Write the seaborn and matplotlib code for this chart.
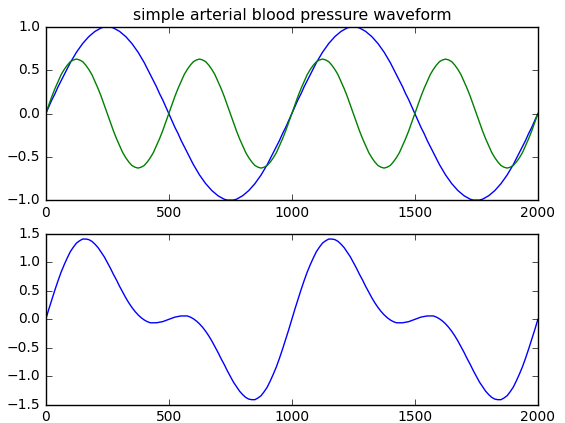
import numpy as np
import pandas as pd
import matplotlib
matplotlib.use('Agg')
import matplotlib.pyplot as plt
import seaborn as sns

# sample positions along the x axis (every 12.5 units, 0..2000)
x = np.linspace(0, 2000, 161)

# top panel: slow wave (blue)
slow_wave = [
    0.0, 0.08, 0.16, 0.23, 0.31, 0.38, 0.45, 0.52, 0.59, 0.65,
    0.71, 0.76, 0.81, 0.85, 0.89, 0.92, 0.95, 0.97, 0.99, 1.0,
    1.0, 1.0, 0.99, 0.97, 0.95, 0.92, 0.89, 0.85, 0.81, 0.76,
    0.71, 0.65, 0.59, 0.52, 0.45, 0.38, 0.31, 0.23, 0.16, 0.08,
    0.0, -0.08, -0.16, -0.23, -0.31, -0.38, -0.45, -0.52, -0.59, -0.65,
    -0.71, -0.76, -0.81, -0.85, -0.89, -0.92, -0.95, -0.97, -0.99, -1.0,
    -1.0, -1.0, -0.99, -0.97, -0.95, -0.92, -0.89, -0.85, -0.81, -0.76,
    -0.71, -0.65, -0.59, -0.52, -0.45, -0.38, -0.31, -0.23, -0.16, -0.08,
    0.0, 0.08, 0.16, 0.23, 0.31, 0.38, 0.45, 0.52, 0.59, 0.65,
    0.71, 0.76, 0.81, 0.85, 0.89, 0.92, 0.95, 0.97, 0.99, 1.0,
    1.0, 1.0, 0.99, 0.97, 0.95, 0.92, 0.89, 0.85, 0.81, 0.76,
    0.71, 0.65, 0.59, 0.52, 0.45, 0.38, 0.31, 0.23, 0.16, 0.08,
    0.0, -0.08, -0.16, -0.23, -0.31, -0.38, -0.45, -0.52, -0.59, -0.65,
    -0.71, -0.76, -0.81, -0.85, -0.89, -0.92, -0.95, -0.97, -0.99, -1.0,
    -1.0, -1.0, -0.99, -0.97, -0.95, -0.92, -0.89, -0.85, -0.81, -0.76,
    -0.71, -0.65, -0.59, -0.52, -0.45, -0.38, -0.31, -0.23, -0.16, -0.08,
    0.0]

# top panel: fast wave (green)
fast_wave = [
    0.0, 0.10, 0.20, 0.29, 0.37, 0.45, 0.51, 0.56, 0.60, 0.62,
    0.63, 0.62, 0.60, 0.56, 0.51, 0.45, 0.37, 0.29, 0.20, 0.10,
    0.0, -0.10, -0.20, -0.29, -0.37, -0.45, -0.51, -0.56, -0.60, -0.62,
    -0.63, -0.62, -0.60, -0.56, -0.51, -0.45, -0.37, -0.29, -0.20, -0.10,
    0.0, 0.10, 0.20, 0.29, 0.37, 0.45, 0.51, 0.56, 0.60, 0.62,
    0.63, 0.62, 0.60, 0.56, 0.51, 0.45, 0.37, 0.29, 0.20, 0.10,
    0.0, -0.10, -0.20, -0.29, -0.37, -0.45, -0.51, -0.56, -0.60, -0.62,
    -0.63, -0.62, -0.60, -0.56, -0.51, -0.45, -0.37, -0.29, -0.20, -0.10,
    0.0, 0.10, 0.20, 0.29, 0.37, 0.45, 0.51, 0.56, 0.60, 0.62,
    0.63, 0.62, 0.60, 0.56, 0.51, 0.45, 0.37, 0.29, 0.20, 0.10,
    0.0, -0.10, -0.20, -0.29, -0.37, -0.45, -0.51, -0.56, -0.60, -0.62,
    -0.63, -0.62, -0.60, -0.56, -0.51, -0.45, -0.37, -0.29, -0.20, -0.10,
    0.0, 0.10, 0.20, 0.29, 0.37, 0.45, 0.51, 0.56, 0.60, 0.62,
    0.63, 0.62, 0.60, 0.56, 0.51, 0.45, 0.37, 0.29, 0.20, 0.10,
    0.0, -0.10, -0.20, -0.29, -0.37, -0.45, -0.51, -0.56, -0.60, -0.62,
    -0.63, -0.62, -0.60, -0.56, -0.51, -0.45, -0.37, -0.29, -0.20, -0.10,
    0.0]

# bottom panel: combined waveform (blue)
combined = [
    0.0, 0.18, 0.35, 0.52, 0.68, 0.83, 0.96, 1.08, 1.19, 1.27,
    1.34, 1.38, 1.41, 1.41, 1.40, 1.37, 1.32, 1.26, 1.18, 1.10,
    1.0, 0.90, 0.79, 0.69, 0.58, 0.48, 0.38, 0.29, 0.21, 0.14,
    0.08, 0.03, -0.01, -0.04, -0.06, -0.06, -0.06, -0.05, -0.04, -0.02,
    0.0, 0.02, 0.04, 0.05, 0.06, 0.06, 0.06, 0.04, 0.01, -0.03,
    -0.08, -0.14, -0.21, -0.29, -0.38, -0.48, -0.58, -0.69, -0.79, -0.90,
    -1.0, -1.10, -1.18, -1.26, -1.32, -1.37, -1.40, -1.41, -1.41, -1.38,
    -1.34, -1.27, -1.19, -1.08, -0.96, -0.83, -0.68, -0.52, -0.35, -0.18,
    0.0, 0.18, 0.35, 0.52, 0.68, 0.83, 0.96, 1.08, 1.19, 1.27,
    1.34, 1.38, 1.41, 1.41, 1.40, 1.37, 1.32, 1.26, 1.18, 1.10,
    1.0, 0.90, 0.79, 0.69, 0.58, 0.48, 0.38, 0.29, 0.21, 0.14,
    0.08, 0.03, -0.01, -0.04, -0.06, -0.06, -0.06, -0.05, -0.04, -0.02,
    0.0, 0.02, 0.04, 0.05, 0.06, 0.06, 0.06, 0.04, 0.01, -0.03,
    -0.08, -0.14, -0.21, -0.29, -0.38, -0.48, -0.58, -0.69, -0.79, -0.90,
    -1.0, -1.10, -1.18, -1.26, -1.32, -1.37, -1.40, -1.41, -1.41, -1.38,
    -1.34, -1.27, -1.19, -1.08, -0.96, -0.83, -0.68, -0.52, -0.35, -0.18,
    0.0]

df = pd.DataFrame({'x': x, 'slow': slow_wave, 'fast': fast_wave, 'combined': combined})

plt.style.use('classic')
plt.rcParams['figure.facecolor'] = 'white'
plt.rcParams['font.family'] = ['DejaVu Sans']

fig = plt.figure(figsize=(5.65, 4.23), dpi=100)
ax1 = fig.add_axes([0.081, 0.527, 0.871, 0.409])
ax2 = fig.add_axes([0.081, 0.043, 0.871, 0.404])

sns.lineplot(data=df, x='x', y='slow', color='b', lw=1, ax=ax1)
sns.lineplot(data=df, x='x', y='fast', color='g', lw=1, ax=ax1)
sns.lineplot(data=df, x='x', y='combined', color='b', lw=1, ax=ax2)

ax1.set_xlim(0, 2000)
ax1.set_ylim(-1.0, 1.0)
ax1.set_yticks([-1.0, -0.5, 0.0, 0.5, 1.0])
ax1.set_title('simple arterial blood pressure waveform', fontsize=11.3)

ax2.set_xlim(0, 2000)
ax2.set_ylim(-1.5, 1.5)
ax2.set_yticks([-1.5, -1.0, -0.5, 0.0, 0.5, 1.0, 1.5])

for ax in (ax1, ax2):
    ax.set_xticks([0, 500, 1000, 1500, 2000])
    ax.set_xlabel('')
    ax.set_ylabel('')
    ax.tick_params(labelsize=10)

fig.savefig('out.png', dpi=100)
